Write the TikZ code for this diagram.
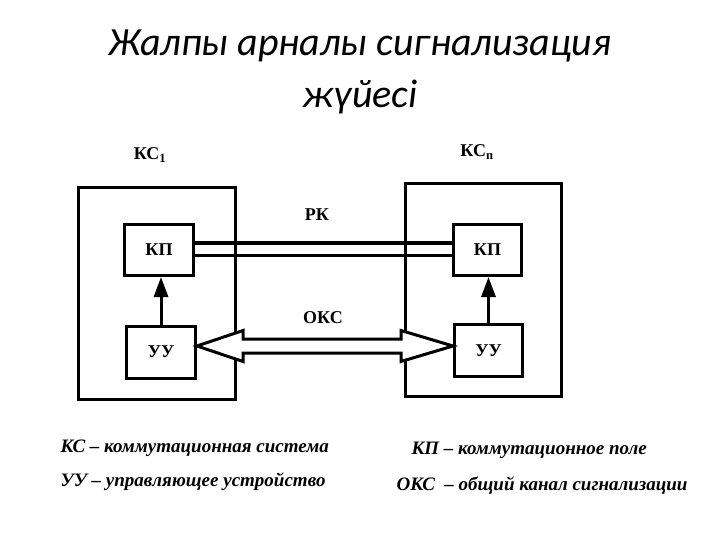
\documentclass[tikz,border=0pt]{standalone}
\usepackage{fontspec}
\setmainfont{Liberation Serif}
\newfontfamily\titlefont{Carlito}
\usetikzlibrary{positioning,arrows.meta,calc}

\begin{document}
\begin{tikzpicture}[x=1pt,y=-1pt,
    frame/.style={draw,line width=3pt,inner sep=0pt},
    unit/.style={draw,line width=3pt,fill=white,minimum width=69pt,minimum height=51pt,
      inner sep=0pt,font=\bfseries\fontsize{18}{20}\selectfont},
    lbl/.style={font=\bfseries\fontsize{18}{20}\selectfont},
    legend/.style={anchor=west,font=\bfseries\itshape\fontsize{19}{22}\selectfont}]
  \useasboundingbox (0,0) rectangle (720,540);
  % title
  \node[font=\titlefont\itshape\fontsize{40}{52}\selectfont,align=center] (title) at (360,72)
    {Жалпы арналы сигнализация\\жүйесі};
  % switching systems
  \node[frame,minimum width=157pt,minimum height=212pt] (ks1) at (157,293.5) {};
  \node[frame,minimum width=156pt,minimum height=213pt] (ksn) at (483.5,290) {};
  \node[lbl] (ks1lbl) at (150,155) {КС$_{\mathbf{1}}$};
  \node[lbl] (ksnlbl) at (477,152) {КС$_{\mathbf{n}}$};
  % units
  \node[unit] (kp1) at (159,250) {КП};
  \node[unit,minimum width=68pt] (kp2) at (487.5,250) {КП};
  \node[unit,minimum height=52pt] (uu1) at (161,352) {УУ};
  \node[unit,minimum width=68pt,minimum height=52pt] (uu2) at (488.5,350.5) {УУ};
  \draw[line width=3pt,-{Triangle[length=20pt,width=14pt]}] (uu1.north) -- (uu1.north |- kp1.south);
  \draw[line width=3pt,-{Triangle[length=20pt,width=14pt]}] (uu2.north) -- (uu2.north |- kp2.south);
  % speech channels
  \draw[line width=4pt] ([yshift=7pt]kp1.east) -- ([yshift=7pt]kp2.west);
  \draw[line width=3pt] ([yshift=-5pt]kp1.east) -- ([yshift=-5pt]kp2.west);
  \node[lbl] (rk) at (317,215) {РК};
  % common signalling channel
  \coordinate (okL) at (uu1.east |- 0,346);
  \coordinate (okR) at (uu2.west |- 0,346);
  \draw[line width=3pt,fill=white,line join=miter] (okL) -- ++(46,-15.5) -- ++(0,8.5)
    -- ($(okR)+(-52,-7)$) -- ++(0,-8.5) -- (okR) -- ++(-52,15.5) -- ++(0,-8.5)
    -- ($(okL)+(46,7)$) -- ++(0,8.5) -- cycle;
  \node[lbl] (oks) at (323,318) {ОКС};
  % legend
  \node[legend] (lg1) at (57,448) {КС – коммутационная система};
  \node[legend] (lg2) at (57,482) {УУ – управляющее устройство};
  \node[legend] (lg3) at (408,450) {КП – коммутационное поле};
  \node[legend] (lg4) at (393,486) {ОКС \ – общий канал сигнализации};
\end{tikzpicture}
\end{document}
